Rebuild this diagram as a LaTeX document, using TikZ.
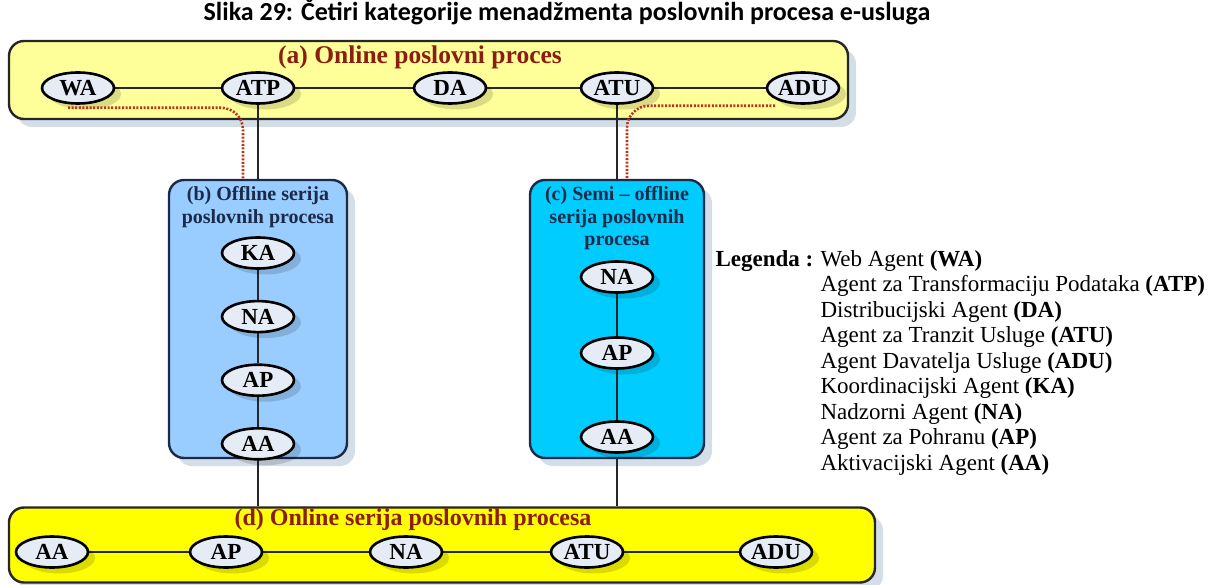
\documentclass[tikz,border=0pt]{standalone}
\usepackage{fontspec}
\setmainfont{Liberation Serif}
\newfontfamily\captionfont{Carlito}
\usepackage{tikz}
\usetikzlibrary{shapes.geometric, positioning, backgrounds, shadows}
\definecolor{PaleYellow}{HTML}{FFFF99}
\definecolor{BrightYellow}{HTML}{FFFF00}
\definecolor{SkyBlue}{HTML}{99CCFF}
\definecolor{CyanBlue}{HTML}{00CCFF}
\definecolor{NavyText}{HTML}{1B2A48}
\definecolor{TitleRed}{HTML}{8B1E10}
\definecolor{AgentFill}{HTML}{E6ECF5}
\definecolor{ShadowBlue}{HTML}{C9D6E3}
\definecolor{DotRed}{HTML}{B8341E}
\tikzset{
  procbox/.style={rectangle, rounded corners=15pt, draw=black!85, line width=2.4pt, drop shadow={shadow xshift=8pt, shadow yshift=-8pt, fill=ShadowBlue, opacity=0.8}},
  seriesbox/.style={procbox, draw=NavyText},
  agent/.style={ellipse, draw=black, line width=2.6pt, fill=AgentFill, minimum width=72pt, minimum height=31pt, inner sep=0pt, font=\fontsize{23}{23}\selectfont\bfseries, drop shadow={shadow xshift=7pt, shadow yshift=-6pt, fill=black, opacity=0.14}},
  boxtitle/.style={font=\fontsize{24}{26}\selectfont\bfseries, text=TitleRed},
  serieslabel/.style={font=\fontsize{20}{22.5}\selectfont\bfseries, text=NavyText, align=center, anchor=north},
  legendtext/.style={anchor=north west, align=left, font=\fontsize{23}{25.5}\selectfont},
  link/.style={line width=2pt, black!85},
  reddots/.style={line width=2.6pt, DotRed, dash pattern=on 2pt off 1.6pt}
}

\begin{document}
\begin{tikzpicture}[x=1pt, y=-1pt]
  \useasboundingbox (0,0) rectangle (1212,585);

  \node[font=\captionfont\fontsize{26}{26}\selectfont\bfseries] (caption) at (567,12) {Slika 29: Četiri kategorije menadžmenta poslovnih procesa e-usluga};

  % (a) online
  \node[boxtitle, font=\fontsize{25.5}{26}\selectfont\bfseries] (titlea) at (420,57) {(a) Online poslovni proces};
  \node[agent] (wa) at (78,88) {WA};
  \node[agent] (atp) at (258,88) {ATP};
  \node[agent] (da) at (450,88) {DA};
  \node[agent] (atu) at (617,88) {ATU};
  \node[agent] (adu) at (803,88) {ADU};

  % (b) offline
  \node[serieslabel] (labelb) at (258,183) {(b) Offline serija\\poslovnih procesa};
  \node[agent] (ka) at (258,253) {KA};
  \node[agent, below=30pt of ka] (na1) {NA};
  \node[agent, below=30pt of na1] (ap1) {AP};
  \node[agent, below=30pt of ap1] (aa1) {AA};

  % (c) semi-offline
  \node[serieslabel] (labelc) at (617,183) {(c) Semi -- offline\\serija poslovnih\\procesa};
  \node[agent] (na2) at (617,277) {NA};
  \node[agent] (ap2) at (617,353) {AP};
  \node[agent] (aa2) at (617,437) {AA};

  % (d) online serija
  \node[boxtitle] (titled) at (413,520) {(d) Online serija poslovnih procesa};
  \node[agent] (aa3) at (52,552) {AA};
  \node[agent] (ap3) at (226,552) {AP};
  \node[agent] (na3) at (406,552) {NA};
  \node[agent] (atu3) at (587,552) {ATU};
  \node[agent] (adu3) at (776,552) {ADU};

  \begin{scope}[on background layer]
    \node[procbox, fill=PaleYellow, minimum width=839pt, minimum height=78pt] (online) at (428.5,80) {};
    \node[procbox, fill=BrightYellow, minimum width=866pt, minimum height=75pt] (series) at (442,545) {};
    \node[seriesbox, fill=SkyBlue, minimum width=178pt, minimum height=278pt] (offline) at (258,319) {};
    \node[seriesbox, fill=CyanBlue, minimum width=174pt, minimum height=278pt] (semi) at (617,319) {};

    \draw[link] (wa) -- (atp) -- (da) -- (atu) -- (adu);
    \draw[link] (atp) -- (offline.north);
    \draw[link] (atu) -- (semi.north);
    \draw[link] (ka) -- (na1) -- (ap1) -- (aa1);
    \draw[link] (na2) -- (ap2) -- (aa2);
    \draw[link] (offline.south) -- (offline.south |- series.north);
    \draw[link] (semi.south) -- (semi.south |- series.north);
    \draw[link] (aa3) -- (ap3) -- (na3) -- (atu3) -- (adu3);
  \end{scope}

  \draw[reddots, rounded corners=22pt] ([shift={(-10,3)}]wa.south) -| ([xshift=-15pt]offline.north);
  \draw[reddots, rounded corners=22pt] ([shift={(-28,1)}]adu.south) -| ([xshift=10pt]semi.north);

  % legenda
  \node[legendtext, font=\fontsize{23}{25.5}\selectfont\bfseries] (legtitle) at (712,247) {Legenda :};
  \node[legendtext] (legend) at (817,247) {Web Agent \textbf{(WA)}\\
    Agent za Transformaciju Podataka \textbf{(ATP)}\\
    Distribucijski Agent \textbf{(DA)}\\
    Agent za Tranzit Usluge \textbf{(ATU)}\\
    Agent Davatelja Usluge \textbf{(ADU)}\\
    Koordinacijski Agent \textbf{(KA)}\\
    Nadzorni Agent \textbf{(NA)}\\
    Agent za Pohranu \textbf{(AP)}\\
    Aktivacijski Agent \textbf{(AA)}};
\end{tikzpicture}
\end{document}
